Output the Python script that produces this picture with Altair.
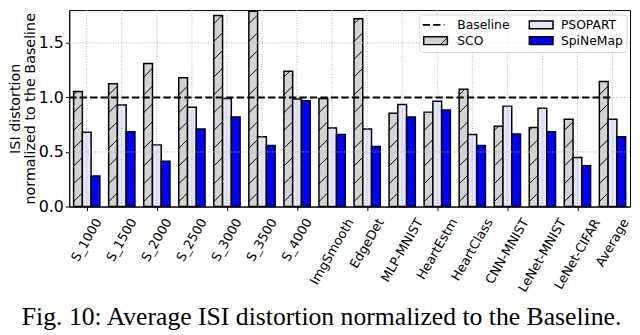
import altair as alt
import pandas as pd

categories = ["S_1000", "S_1500", "S_2000", "S_2500", "S_3000", "S_3500", "S_4000",
              "ImgSmooth", "EdgeDet", "MLP-MNIST", "HeartEstm", "HeartClass",
              "CNN-MNIST", "LeNet-MNIST", "LeNet-CIFAR", "Average"]
sco = [1.055, 1.125, 1.31, 1.18, 1.75, 1.79, 1.24, 0.99, 1.72, 0.855, 0.865, 1.075, 0.735, 0.725, 0.80, 1.145]
psopart = [0.68, 0.93, 0.565, 0.91, 0.99, 0.64, 0.985, 0.72, 0.71, 0.935, 0.965, 0.66, 0.92, 0.90, 0.45, 0.80]
spinemap = [0.28, 0.685, 0.415, 0.71, 0.82, 0.56, 0.97, 0.66, 0.55, 0.82, 0.885, 0.56, 0.665, 0.685, 0.375, 0.64]
series_names = ["SCO", "PSOPART", "SpiNeMap"]
series_colors = ["#d3d3d3", "#e6e6fa", "#0000ff"]
baseline_name = "Baseline"
baseline_value = 1.0
y_ticks = [0.0, 0.5, 1.0, 1.5]
y_max = 1.8
y_title = ["ISI distortion", "normalized to the Baseline"]
caption = "Fig. 10: Average ISI distortion normalized to the Baseline."

# ---- layout constants (pixels) ----
W, H = 568, 199
n = len(categories)
idx = list(range(n))
offsets = [-0.25, 0.0, 0.25]
bar_w = 0.25

xscale = alt.Scale(domain=[-0.5, n - 0.5], nice=False, zero=False)
yscale = alt.Scale(domain=[0, y_max], nice=False)

# bars
rows = []
for s, name in enumerate(series_names):
    vals = [sco, psopart, spinemap][s]
    for i in idx:
        c = i + offsets[s]
        rows.append(dict(cat=categories[i], series=name, value=vals[i],
                         x0=c - bar_w / 2, x1=c + bar_w / 2, zero=0.0))
bars_df = pd.DataFrame(rows)

# hatch strokes for the SCO bars
period, rise, phase = 0.163, 0.08, 0.045
hrows = []
for i in idx:
    v = sco[i]
    xl = i + offsets[0] - bar_w / 2
    y0 = phase - period
    while y0 < v:
        ya, yb, xa, xb = y0, y0 + rise, xl, xl + bar_w
        if ya < 0:
            xa = xl + (0 - y0) / rise * bar_w
            ya = 0
        if yb > v:
            xb = xl + (v - y0) / rise * bar_w
            yb = v
        if yb > ya:
            hrows.append(dict(xa=xa, xb=xb, ya=ya, yb=yb))
        y0 += period
hatch_df = pd.DataFrame(hrows)

xaxis = alt.Axis(values=idx, labels=False, ticks=True, tickSize=4, tickColor="black",
                 domain=True, domainColor="black", grid=False, title=None)
yaxis = alt.Axis(values=y_ticks, format=".1f", labelFontSize=16, labelColor="black",
                 labelFont="DejaVu Sans", tickSize=4, tickColor="black", labelPadding=2,
                 grid=False, domainColor="black", title=y_title, titleFontSize=14.5,
                 titleFont="DejaVu Sans", titleFontWeight="normal", titleColor="black",
                 titleAngle=270, titleBaseline="top", titleAlign="center",
                 titleX=-61, titleY=H / 2, titleLineHeight=15)

bars = alt.Chart(bars_df).mark_rect(stroke="black", strokeWidth=1.5).encode(
    x=alt.X("x0:Q", scale=xscale, axis=xaxis),
    x2="x1:Q",
    y=alt.Y("value:Q", scale=yscale, axis=yaxis),
    y2="zero:Q",
    color=alt.Color("series:N", scale=alt.Scale(domain=series_names, range=series_colors), legend=None),
)

hatch = alt.Chart(hatch_df).mark_rule(color="black", strokeWidth=1).encode(
    x=alt.X("xa:Q", scale=xscale), x2="xb:Q",
    y=alt.Y("ya:Q", scale=yscale), y2="yb:Q",
)

grid_v = alt.Chart(pd.DataFrame({"g": idx})).mark_rule(
    color="#b0b0b0", strokeDash=[1, 1.6], strokeWidth=1).encode(x=alt.X("g:Q", scale=xscale))
grid_h = alt.Chart(pd.DataFrame({"g": y_ticks[1:]})).mark_rule(
    color="#b0b0b0", strokeDash=[1, 1.6], strokeWidth=1).encode(y=alt.Y("g:Q", scale=yscale))

base_df = pd.DataFrame({"x0": [idx[0] - 0.5], "x1": [idx[-1]], "y": [baseline_value]})
baseline = alt.Chart(base_df).mark_rule(color="black", strokeDash=[7.4, 3.2], strokeWidth=2).encode(
    x=alt.X("x0:Q", scale=xscale), x2="x1:Q", y=alt.Y("y:Q", scale=yscale))

# x tick labels, rotated 60 degrees, bounding box centred under each tick
cw = {"S": .635, "_": .5, "0": .636, "1": .636, "2": .636, "3": .636, "4": .636, "5": .636,
      "I": .295, "m": .974, "g": .635, "o": .612, "t": .392, "h": .634, "E": .632, "d": .635,
      "e": .615, "D": .770, "M": .863, "L": .557, "P": .603, "N": .748, "T": .611, "H": .752,
      "a": .613, "r": .411, "s": .521, "l": .278, "C": .698, "n": .634, "F": .575, "A": .684,
      "R": .695, "v": .592, "-": .361, "i": .278, "c": .550}
fs_x = 13
lab_rows = []
for i, c in zip(idx, categories):
    L = sum(cw.get(ch, 0.6) for ch in c) * fs_x
    bh = L * 0.866 + fs_x * 0.5
    lab_rows.append(dict(i=i, cat=c, ly=H + 10 + bh / 2))
labels = alt.Chart(pd.DataFrame(lab_rows)).mark_text(
    angle=300, align="center", baseline="middle", fontSize=fs_x, font="DejaVu Sans", color="black"
).encode(x=alt.X("i:Q", scale=xscale), y=alt.Y("ly:Q", scale=None, axis=None), text="cat:N")

# legend (drawn by hand, top right inside the plot)
one = pd.DataFrame({"k": [0]})
lx0, lx1, ly0, ly1 = W - 213, W - 3, 5, 43
r1, r2 = 15, 31
c1s, c1t, c2s, c2t = W - 210, W - 175, W - 102, W - 70
leg_box = alt.Chart(one).mark_rect(fill="white", opacity=0.8, stroke="#cccccc", strokeWidth=1,
                                   cornerRadius=3).encode(
    x=alt.value(lx0), x2=alt.value(lx1), y=alt.value(ly0), y2=alt.value(ly1))
leg_line = alt.Chart(one).mark_rule(color="black", strokeDash=[7.4, 3.2], strokeWidth=2).encode(
    x=alt.value(c1s), x2=alt.value(c1s + 22), y=alt.value(r1))
leg_patch_rows = [
    dict(name=series_names[0], px=c1s + 1, py=r2),
    dict(name=series_names[1], px=c2s, py=r1),
    dict(name=series_names[2], px=c2s, py=r2),
]
leg_p = pd.DataFrame(leg_patch_rows)
leg_p["px2"] = leg_p["px"] + 24
leg_p["py0"] = leg_p["py"] - 4
leg_p["py1"] = leg_p["py"] + 4
leg_patches = alt.Chart(leg_p).mark_rect(stroke="black", strokeWidth=1.5).encode(
    x=alt.X("px:Q", scale=None), x2="px2:Q", y=alt.Y("py0:Q", scale=None), y2="py1:Q",
    color=alt.Color("name:N", scale=alt.Scale(domain=series_names, range=series_colors), legend=None))
leg_hatch = alt.Chart(one).mark_rule(color="black", strokeWidth=1).encode(
    x=alt.value(c1s + 18), x2=alt.value(c1s + 25), y=alt.value(r2 + 4), y2=alt.value(r2 - 3))
leg_text_df = pd.DataFrame([
    dict(t=baseline_name, tx=c1t, ty=r1),
    dict(t=series_names[0], tx=c1t, ty=r2),
    dict(t=series_names[1], tx=c2t, ty=r1),
    dict(t=series_names[2], tx=c2t, ty=r2),
])
leg_text = alt.Chart(leg_text_df).mark_text(align="left", baseline="middle", fontSize=12.5,
                                            font="DejaVu Sans", color="black").encode(
    x=alt.X("tx:Q", scale=None), y=alt.Y("ty:Q", scale=None), text="t:N")

cap = alt.Chart(pd.DataFrame({"t": [caption]})).mark_text(
    align="left", baseline="alphabetic", fontSize=26, font="Liberation Serif", color="black"
).encode(x=alt.value(-48), y=alt.value(319), text="t:N")

chart = alt.layer(
    bars, hatch, grid_v, grid_h, baseline, labels,
    leg_box, leg_line, leg_patches, leg_hatch, leg_text, cap
).properties(
    width=W, height=H,
    autosize=alt.AutoSizeParams(type="none"),
    padding={"left": 62, "top": 0, "right": 2, "bottom": 128},
).configure_view(stroke="black", strokeWidth=1)

chart.save("out.html", embed_options={"renderer": "svg", "actions": False})
